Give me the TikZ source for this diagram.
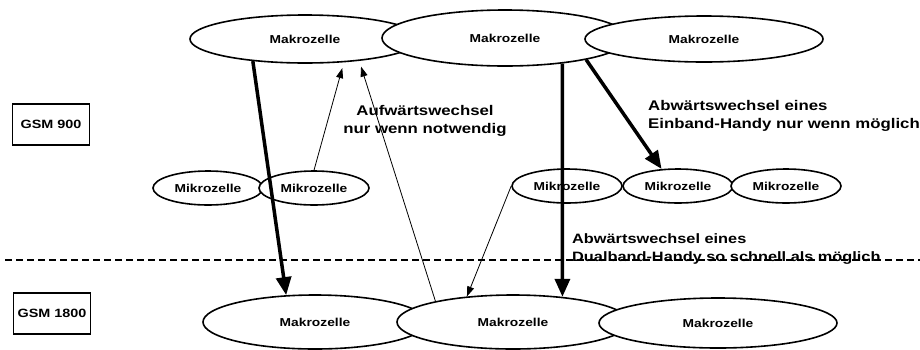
\documentclass[tikz,border=0pt]{standalone}
\usepackage{fontspec}
\newfontfamily\cellfont{Liberation Sans}[FakeStretch=1.2]
\usetikzlibrary{arrows.meta,shapes.geometric}
\tikzset{
  cell/.style={draw, ellipse, fill=white, line width=1.6pt, inner sep=0pt,
    font=\cellfont\bfseries\fontsize{11.5}{13}\selectfont},
  macro/.style={cell, minimum width=230pt, minimum height=48pt},
  micro/.style={cell, minimum width=110pt, minimum height=34pt},
  band/.style={draw, line width=1.2pt, minimum width=77pt, minimum height=41pt, inner sep=0pt,
    font=\cellfont\bfseries\fontsize{12}{14}\selectfont},
  note/.style={inner sep=0pt, font=\cellfont\bfseries\fontsize{14}{18}\selectfont},
  handover/.style={-{Triangle[length=18pt,width=15pt]}, line width=3.5pt},
  hint/.style={-{Triangle[length=10pt,width=7pt]}, line width=0.8pt, shorten >=6pt},
}

\begin{document}
\begin{tikzpicture}[x=1pt, y=-1pt]
  \useasboundingbox (0,0) rectangle (920,349);

  % frequency bands
  \node[band] (g900)  at (51,124.5) {GSM 900};
  \node[band] (g1800) at (52,313.5) {GSM 1800};

  % GSM 900 layer
  \node[macro] (M1) at (305,39) {Makrozelle};
  \node[macro, minimum width=246pt, minimum height=56pt] (M2) at (505,38) {Makrozelle};
  \node[macro, minimum width=238pt, minimum height=46pt] (M3) at (704,39) {Makrozelle};

  \node[micro] (m1) at (208,188) {Mikrozelle};
  \node[micro] (m2) at (314,188) {Mikrozelle};
  \node[micro] (m3) at (567,186) {Mikrozelle};
  \node[micro] (m4) at (678,186) {Mikrozelle};
  \node[micro] (m5) at (786,186) {Mikrozelle};

  % GSM 1800 layer
  \node[macro, minimum width=224pt, minimum height=54pt] (B1) at (315,322) {Makrozelle};
  \node[macro, minimum width=232pt, minimum height=54pt] (B2) at (513,322) {Makrozelle};
  \node[macro, minimum width=238pt, minimum height=50pt] (B3) at (718,323) {Makrozelle};

  % handovers
  \draw[handover] (M1.203) -- (B1.137);
  \draw[handover] (M2.336) -- (B2.27);
  \draw[handover] (M2.345) -- (m4.134);
  \draw[hint] (m2.north) -- (M1.329);
  \draw[hint] (B2.165) -- (M1.338);
  \draw[hint, shorten >=0pt] (m3.west) -- (B2.151);

  \node[note, align=center] (up) at (425,121) {Aufwärtswechsel\\nur wenn notwendig};
  \node[note, align=left, anchor=west] (single) at (648,116) {Abwärtswechsel eines\\Einband-Handy nur wenn möglich};
  \node[note, align=left, anchor=west, font=\cellfont\bfseries\fontsize{13.6}{18}\selectfont] (dual) at (572,249) {Abwärtswechsel eines\\Dualband-Handy so schnell als möglich};

  % band border
  \draw[line width=1.2pt, dash pattern=on 7pt off 4pt] (5,260) -- (920,260);
\end{tikzpicture}
\end{document}
